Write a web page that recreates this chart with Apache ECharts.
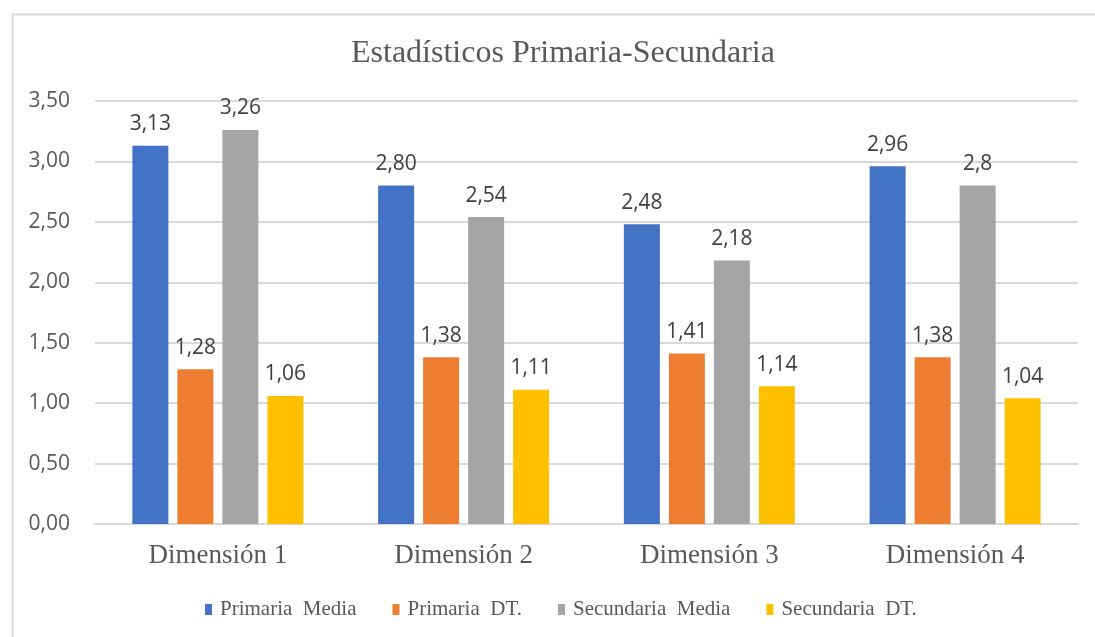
<!DOCTYPE html>
<html>
<head>
<meta charset="utf-8">
<script src="https://cdn.jsdelivr.net/npm/echarts@6/dist/echarts.min.js"></script>
<style>html,body{margin:0;padding:0;background:#fff;}#c{width:1095px;height:637px;}</style>
</head>
<body>
<div id="c"></div>
<script>
const categories = ['Dimensión 1', 'Dimensión 2', 'Dimensión 3', 'Dimensión 4'];
const seriesNames = ['Primaria  Media', 'Primaria  DT.', 'Secundaria  Media', 'Secundaria  DT.'];
const primariaMedia = [3.13, 2.80, 2.48, 2.96];
const primariaDT = [1.28, 1.38, 1.41, 1.38];
const secundariaMedia = [3.26, 2.54, 2.18, 2.8];
const secundariaDT = [1.06, 1.11, 1.14, 1.04];
const primariaMediaLabels = ['3,13', '2,80', '2,48', '2,96'];
const primariaDTLabels = ['1,28', '1,38', '1,41', '1,38'];
const secundariaMediaLabels = ['3,26', '2,54', '2,18', '2,8'];
const secundariaDTLabels = ['1,06', '1,11', '1,14', '1,04'];
const yTicks = {min: 0, max: 3.5, interval: 0.5};

const colors = ['#4472C4', '#ED7D31', '#A5A5A5', '#FFC000'];
const values = [primariaMedia, primariaDT, secundariaMedia, secundariaDT];
const labels = [primariaMediaLabels, primariaDTLabels, secundariaMediaLabels, secundariaDTLabels];

const chart = echarts.init(document.getElementById('c'), null, {renderer: 'canvas'});
chart.setOption({
  animation: false,
  backgroundColor: '#fff',
  graphic: [{
    type: 'rect', left: 10, top: 12, silent: true,
    shape: {width: 1300, height: 800},
    style: {fill: 'none', stroke: '#d9d9d9', lineWidth: 2}
  }],
  title: {
    text: 'Estadísticos Primaria-Secundaria',
    left: 346, top: 33,
    textStyle: {fontFamily: 'Liberation Serif', fontSize: 32, fontWeight: 'normal', color: '#595959'}
  },
  grid: {left: 95, right: 17, top: 101, bottom: 113, containLabel: false},
  legend: {
    data: seriesNames,
    top: 594, left: 200,
    icon: 'rect', itemWidth: 7, itemHeight: 11, itemGap: 36,
    textStyle: {fontFamily: 'Liberation Serif', fontSize: 21, color: '#595959', padding: [0, 0, 0, 3]}
  },
  xAxis: {
    type: 'category', data: categories,
    axisLine: {show: true, lineStyle: {color: '#d9d9d9', width: 2}},
    axisTick: {show: false},
    axisLabel: {fontFamily: 'Liberation Serif', fontSize: 27, color: '#595959', margin: 18}
  },
  yAxis: {
    type: 'value', min: yTicks.min, max: yTicks.max, interval: yTicks.interval,
    axisLine: {show: false}, axisTick: {show: false},
    splitLine: {lineStyle: {color: '#d9d9d9', width: 2}},
    axisLabel: {
      fontFamily: 'Open Sans', fontSize: 21, color: '#595959', margin: 25,
      formatter: v => v.toFixed(2).replace('.', ',')
    }
  },
  series: seriesNames.map((name, i) => ({
    name: name, type: 'bar',
    data: values[i],
    barWidth: 36, barGap: '25%',
    itemStyle: {color: colors[i]},
    label: {
      show: true, position: 'top', distance: 11,
      fontFamily: 'Open Sans', fontSize: 21, color: '#404040',
      formatter: p => labels[i][p.dataIndex]
    }
  }))
});
</script>
</body>
</html>
